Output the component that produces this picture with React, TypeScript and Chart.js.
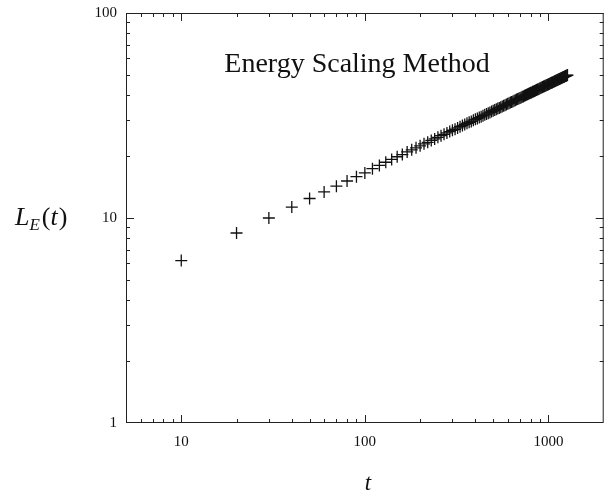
import React, { useEffect, useRef } from "react";
import { Chart, registerables } from "chart.js";

Chart.register(...registerables);

// time values t
const tValues = [
  10, 20, 30, 40, 50, 60, 70, 80, 90, 100,
  110, 120, 130, 140, 150, 160, 170, 180, 190, 200,
  210, 220, 230, 240, 250, 260, 270, 280, 290, 300,
  310, 320, 330, 340, 350, 360, 370, 380, 390, 400,
  410, 420, 430, 440, 450, 460, 470, 480, 490, 500,
  510, 520, 530, 540, 550, 560, 570, 580, 590, 600,
  610, 620, 630, 640, 650, 660, 670, 680, 690, 700,
  710, 720, 730, 740, 750, 760, 770, 780, 790, 800,
  810, 820, 830, 840, 850, 860, 870, 880, 890, 900,
  910, 920, 930, 940, 950, 960, 970, 980, 990, 1000,
  1010, 1020, 1030, 1040, 1050, 1060, 1070, 1080, 1090, 1100,
  1110, 1120, 1130, 1140, 1150, 1160, 1170, 1180, 1190, 1200,
  1210, 1220, 1230, 1240, 1250, 1260, 1270,
];

// L_E(t) values
const lengthValues = [
  6.2, 8.45, 10.0, 11.3, 12.45, 13.4, 14.3, 15.15, 15.9, 16.6,
  17.4, 18.05, 18.7, 19.3, 19.9, 20.4, 21.0, 21.5, 22.0, 22.5,
  23.0, 23.4, 23.9, 24.3, 24.75, 25.2, 25.6, 26.0, 26.4, 26.8,
  27.1, 27.5, 27.9, 28.25, 28.6, 28.95, 29.3, 29.6, 30.0, 30.3,
  30.6, 30.9, 31.2, 31.55, 31.85, 32.15, 32.45, 32.75, 33.05, 33.35,
  33.6, 33.9, 34.2, 34.45, 34.7, 35.0, 35.3, 35.5, 35.8, 36.05,
  36.3, 36.55, 36.8, 37.05, 37.3, 37.55, 37.8, 38.05, 38.3, 38.5,
  38.75, 39.0, 39.2, 39.45, 39.7, 39.9, 40.15, 40.35, 40.6, 40.8,
  41.0, 41.25, 41.45, 41.65, 41.9, 42.1, 42.3, 42.5, 42.7, 42.9,
  43.15, 43.35, 43.55, 43.75, 43.95, 44.15, 44.35, 44.55, 44.7, 44.9,
  45.1, 45.3, 45.5, 45.7, 45.85, 46.05, 46.25, 46.4, 46.6, 46.8,
  47.0, 47.15, 47.35, 47.5, 47.7, 47.85, 48.05, 48.2, 48.4, 48.6,
  48.75, 48.9, 49.1, 49.25, 49.45, 49.6, 49.8,
];

const xTickLabels = [10, 100, 1000];
const yTickLabels = [1, 10, 100];
const xMinorTicks = [6, 7, 8, 9, 20, 30, 40, 50, 60, 70, 80, 90, 200, 300, 400, 500, 600, 700, 800, 900, 2000];
const yMinorTicks = [2, 3, 4, 5, 6, 7, 8, 9, 20, 30, 40, 50, 60, 70, 80, 90];

const titleText = "Energy Scaling Method";
const xLabelText = "t";

const SERIF = "'Liberation Serif', 'DejaVu Serif', serif";

const framePlugin = {
  id: "framePlugin",
  beforeDraw(chart: any) {
    const ctx = chart.ctx;
    ctx.save();
    ctx.fillStyle = "#ffffff";
    ctx.fillRect(0, 0, chart.width, chart.height);
    ctx.restore();
  },
  afterDraw(chart: any) {
    const ctx = chart.ctx;
    const { left, right, top, bottom } = chart.chartArea;
    const xs = chart.scales.x;
    const ys = chart.scales.y;
    ctx.save();
    ctx.strokeStyle = "#222";
    ctx.lineWidth = 1;
    ctx.strokeRect(left + 0.5, top + 0.5, right - left - 1, bottom - top - 1);

    const drawX = (vals: number[], len: number) => {
      vals.forEach((v) => {
        const px = Math.round(xs.getPixelForValue(v)) + 0.5;
        if (px < left || px > right) return;
        ctx.beginPath();
        ctx.moveTo(px, bottom);
        ctx.lineTo(px, bottom - len);
        ctx.moveTo(px, top);
        ctx.lineTo(px, top + len);
        ctx.stroke();
      });
    };
    const drawY = (vals: number[], len: number) => {
      vals.forEach((v) => {
        const py = Math.round(ys.getPixelForValue(v)) + 0.5;
        if (py < top || py > bottom) return;
        ctx.beginPath();
        ctx.moveTo(left, py);
        ctx.lineTo(left + len, py);
        ctx.moveTo(right, py);
        ctx.lineTo(right - len, py);
        ctx.stroke();
      });
    };
    drawX(xTickLabels, 8);
    drawX(xMinorTicks, 4);
    drawY(yTickLabels, 8);
    drawY(yMinorTicks, 4);

    // title inside plot
    ctx.fillStyle = "#111";
    ctx.font = `28px ${SERIF}`;
    ctx.textAlign = "center";
    ctx.textBaseline = "alphabetic";
    ctx.fillText(titleText, 357, 72);

    // x axis label
    ctx.font = `italic 23px ${SERIF}`;
    ctx.fillText(xLabelText, 368, 490);

    // y axis label L_E(t)
    ctx.textAlign = "left";
    let x = 15;
    const base = 225;
    ctx.font = `italic 26px ${SERIF}`;
    ctx.fillText("L", x, base);
    x += ctx.measureText("L").width;
    ctx.font = `italic 17px ${SERIF}`;
    ctx.fillText("E", x, base + 5);
    x += ctx.measureText("E").width + 2;
    ctx.font = `26px ${SERIF}`;
    ctx.fillText("(", x, base);
    x += ctx.measureText("(").width;
    ctx.font = `italic 26px ${SERIF}`;
    ctx.fillText("t", x, base);
    x += ctx.measureText("t").width + 1;
    ctx.font = `26px ${SERIF}`;
    ctx.fillText(")", x, base);
    ctx.restore();
  },
};

export default function App() {
  const canvasRef = useRef<HTMLCanvasElement | null>(null);

  useEffect(() => {
    if (!canvasRef.current) return;
    const points = tValues.map((t, i) => ({ x: t, y: lengthValues[i] }));
    const chart = new Chart(canvasRef.current, {
      type: "scatter",
      data: {
        datasets: [
          {
            data: points,
            pointStyle: "cross",
            pointRadius: 6,
            pointHoverRadius: 6,
            borderColor: "#111",
            backgroundColor: "#111",
            borderWidth: 1.3,
          },
        ],
      },
      options: {
        responsive: false,
        animation: false,
        devicePixelRatio: 1,
        layout: { padding: { top: 13, right: 6, left: 0, bottom: 0 } },
        plugins: {
          legend: { display: false },
          tooltip: { enabled: false },
          title: { display: false },
        },
        scales: {
          x: {
            type: "logarithmic",
            min: 5,
            max: 2000,
            grid: { display: false, drawTicks: false },
            border: { display: false },
            afterBuildTicks: (scale: any) => {
              scale.ticks = xTickLabels.map((v) => ({ value: v }));
            },
            afterFit: (scale: any) => {
              scale.height = 77;
              scale.paddingLeft = 0;
              scale.paddingRight = 0;
            },
            ticks: {
              autoSkip: false,
              maxRotation: 0,
              padding: 10,
              color: "#111",
              font: { family: SERIF, size: 15 },
              callback: (v: any) => String(v),
            },
          },
          y: {
            type: "logarithmic",
            min: 1,
            max: 100,
            grid: { display: false, drawTicks: false },
            border: { display: false },
            afterBuildTicks: (scale: any) => {
              scale.ticks = yTickLabels.map((v) => ({ value: v }));
            },
            afterFit: (scale: any) => {
              scale.width = 126;
              scale.paddingTop = 0;
              scale.paddingBottom = 0;
            },
            ticks: {
              autoSkip: false,
              padding: 9,
              color: "#111",
              font: { family: SERIF, size: 15 },
              callback: (v: any) => String(v),
            },
          },
        },
      },
      plugins: [framePlugin],
    });
    return () => chart.destroy();
  }, []);

  return (
    <div style={{ position: "fixed", left: 0, top: 0, width: 611, height: 500, background: "#fff" }}>
      <canvas ref={canvasRef} width={611} height={500} style={{ width: 611, height: 500, display: "block" }} />
    </div>
  );
}
